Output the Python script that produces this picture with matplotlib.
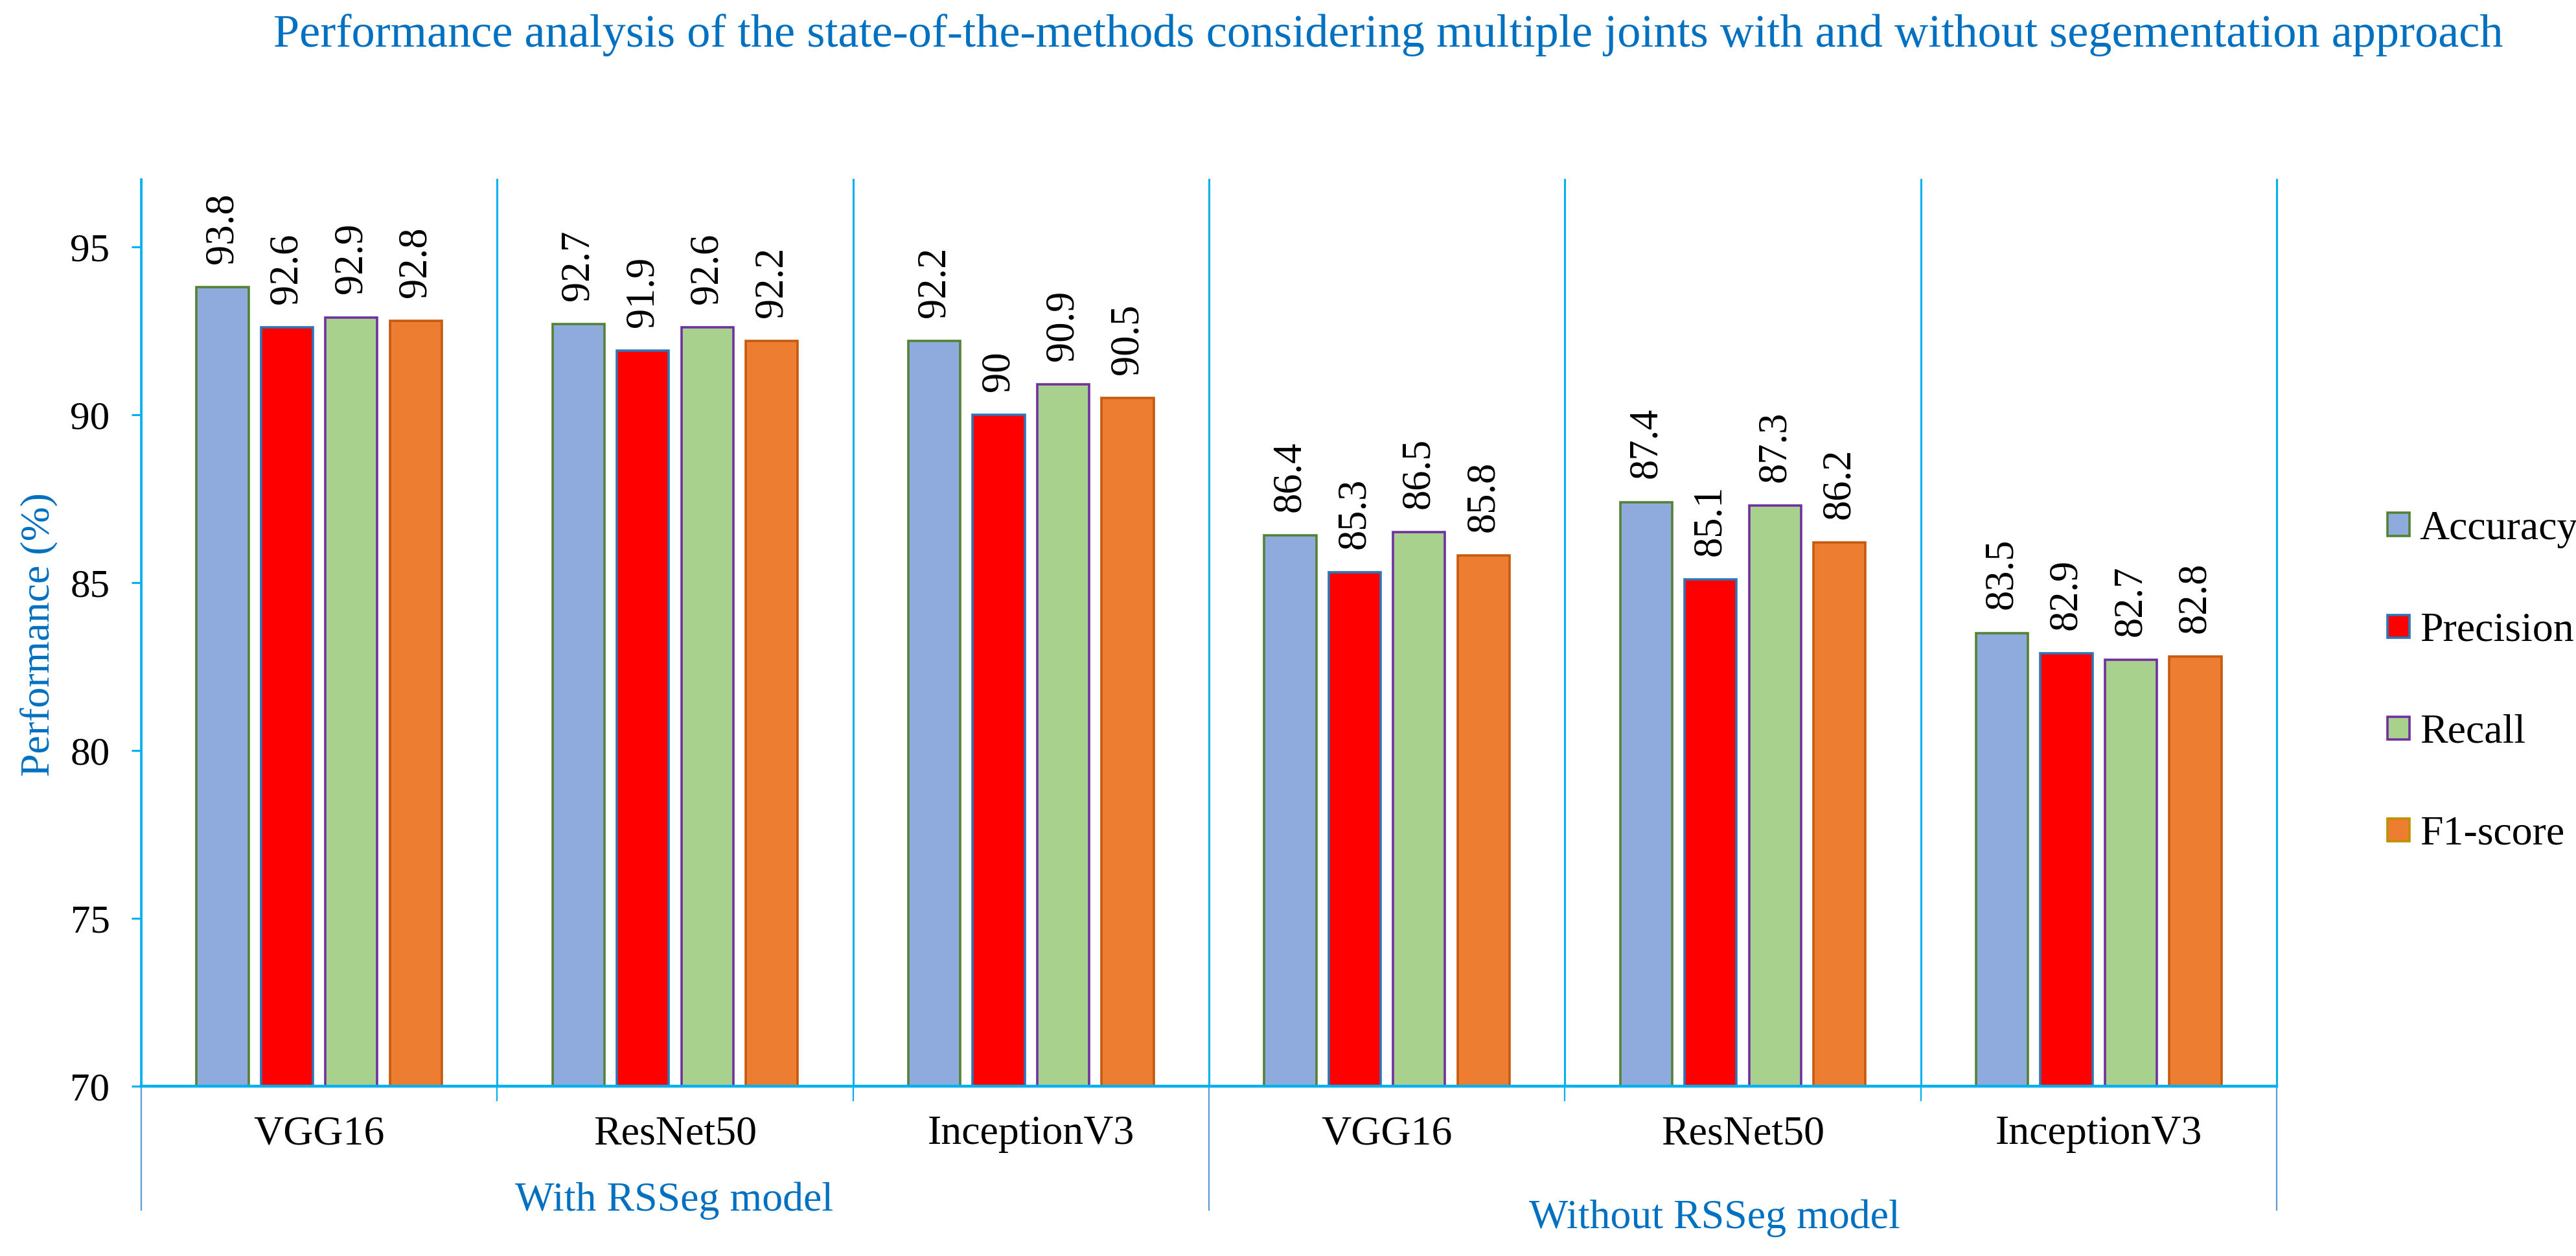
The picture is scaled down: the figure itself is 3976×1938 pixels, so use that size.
import numpy as np
import matplotlib
matplotlib.use("Agg")
import matplotlib.pyplot as plt
from matplotlib.patches import Patch
import matplotlib.transforms as mtransforms

plt.rcParams['font.family'] = ['Liberation Serif', 'DejaVu Serif']

# data
models = ["VGG16", "ResNet50", "InceptionV3", "VGG16", "ResNet50", "InceptionV3"]
metrics = ["Accuracy", "Precision", "Recall", "F1-score"]
accuracy = [93.8, 92.7, 92.2, 86.4, 87.4, 83.5]
precision = [92.6, 91.9, 90.0, 85.3, 85.1, 82.9]
recall = [92.9, 92.6, 90.9, 86.5, 87.3, 82.7]
f1_score = [92.8, 92.2, 90.5, 85.8, 86.2, 82.8]
groups = ["With RSSeg model", "Without RSSeg model"]

series = [accuracy, precision, recall, f1_score]
fills = ["#8FAADC", "#FF0000", "#A9D18E", "#ED7D31"]
edges = ["#548235", "#2E75B6", "#7030A0", "#C55A11"]
legend_edges = ["#548235", "#2E75B6", "#7030A0", "#BF9000"]
line_c = "#00B0F0"
blue_txt = "#0070C0"

fig = plt.figure(figsize=(19.88, 9.69), dpi=200)
ax = fig.add_axes([0.0548, 0.1352, 0.829, 0.7218])

x = np.arange(len(models))
step = 0.181
width = 0.146
for i, vals in enumerate(series):
    pos = x + (i - 1.5) * step
    bars = ax.bar(pos, vals, width, bottom=0, color=fills[i], edgecolor=edges[i],
                  linewidth=1.3, zorder=3)
    for b, v in zip(bars, vals):
        ax.annotate(f"{v:g}", (b.get_x() + b.get_width() / 2, v),
                    xytext=(0, 13), textcoords="offset points",
                    ha="center", va="bottom", rotation=90, fontsize=22.5)

ax.set_xlim(-0.5, len(models) - 0.5)
ax.set_ylim(70, 97)
ax.set_yticks(range(70, 96, 5))
ax.tick_params(axis="y", direction="out", length=5.4, width=1.1, color=line_c,
               labelsize=22, pad=12)
ax.set_xticks([])
for s in ["top", "right"]:
    ax.spines[s].set_visible(False)
ax.spines["left"].set_color(line_c)
ax.spines["left"].set_linewidth(1.3)
ax.spines["bottom"].set_color(line_c)
ax.spines["bottom"].set_linewidth(1.6)
ax.spines["bottom"].set_zorder(4)

# group separators
trans = mtransforms.blended_transform_factory(ax.transData, ax.transAxes)
for sep in np.arange(-0.5, len(models), 1.0):
    ax.plot([sep, sep], [0, 1], transform=trans, color=line_c, lw=1.1,
            clip_on=False, zorder=2)
    if sep in (-0.5, 2.5, 5.5):
        ax.plot([sep, sep], [0, -0.1365], transform=trans, color="#5B9BD5",
                lw=0.8, clip_on=False)
    else:
        ax.plot([sep, sep], [0, -0.016], transform=trans, color=line_c,
                lw=0.8, clip_on=False)

for xi, m in zip(x, models):
    ax.text(xi, -0.053, m, transform=trans, ha="center", va="center", fontsize=23)

fig.text(0.2616, 0.0439, groups[0], ha="center", va="center", fontsize=23, color=blue_txt)
fig.text(0.6655, 0.030, groups[1], ha="center", va="center", fontsize=23, color=blue_txt)

fig.text(0.0151, 0.495, "Performance (%)", rotation=90, ha="center", va="center",
         fontsize=23, color=blue_txt)
fig.text(0.539, 0.972, "Performance analysis of the state-of-the-methods considering multiple joints with and without segementation approach",
         ha="center", va="center", fontsize=26, color=blue_txt)

handles = [Patch(facecolor=fills[i], edgecolor=legend_edges[i], linewidth=1.3) for i in range(4)]
fig.legend(handles, metrics, loc="center left", bbox_to_anchor=(0.9268, 0.457),
           frameon=False, fontsize=23, handlelength=0.53, handleheight=0.47,
           handletextpad=0.25, labelspacing=1.55, borderpad=0, borderaxespad=0)

fig.savefig("out.png", dpi=200, facecolor="white")
